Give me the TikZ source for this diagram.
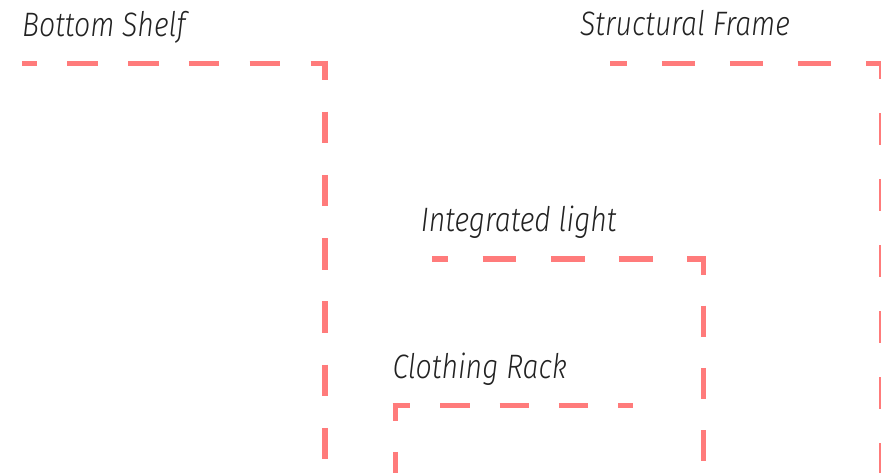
\documentclass[tikz,border=0pt]{standalone}
\usepackage{fontspec}
\newfontfamily\labelfont{Fira Sans}[UprightFont={* Light Italic}, FakeStretch=0.84]
\definecolor{framepink}{HTML}{FF7B7B}
\definecolor{labelink}{HTML}{222222}
\tikzset{
  caption/.style={anchor=base west, inner sep=0pt, text=labelink,
    font=\labelfont\fontsize{34}{40}\selectfont},
  outline/.style={draw=framepink, line width=5.5bp},
}
\begin{document}
\begin{tikzpicture}[x=1bp,y=-1bp]
\useasboundingbox (0,0) rectangle (881,473);
\clip (0,0) rectangle (881,473);

% corner points of the four dashed frames
\coordinate (shelfL) at (22,63.5);
\coordinate (shelfC) at (325,63.5);
\coordinate (frameL) at (610,63.5);
\coordinate (frameC) at (882,63.5);
\coordinate (lightL) at (432,258.8);
\coordinate (lightC) at (703.3,258.8);
\coordinate (rackC) at (395.3,405.5);
\coordinate (rackR) at (633.3,405.5);

% Bottom Shelf
\draw[outline, dash pattern=on 30.5bp off 30.3bp, dash phase=15.5bp]
  (shelfL) -- ([xshift=2.75bp]shelfC);
\draw[outline, dash pattern=on 31.5bp off 31.7bp, dash phase=12.2bp]
  ([yshift=2.75bp]shelfC) -- ([yshift=-420bp]shelfC);

% Structural Frame
\draw[outline, dash pattern=on 33.3bp off 34.8bp, dash phase=16.3bp]
  (frameL) -- ([xshift=2.75bp]frameC);
\draw[outline, dash pattern=on 32.5bp off 33.5bp, dash phase=14bp]
  ([yshift=2.75bp]frameC) -- ([yshift=-420bp]frameC);

% Integrated light
\draw[outline, dash pattern=on 33.7bp off 34.4bp, dash phase=17.4bp]
  (lightL) -- ([xshift=2.75bp]lightC);
\draw[outline, dash pattern=on 31bp off 31.2bp, dash phase=12.5bp]
  ([yshift=2.75bp]lightC) -- ([yshift=-230bp]lightC);

% Clothing Rack
\draw[outline, dash pattern=on 29.5bp off 29.9bp, dash phase=11.8bp]
  ([xshift=-2.75bp]rackC) -- (rackR);
\draw[outline, dash pattern=on 30bp off 31bp, dash phase=12bp]
  ([yshift=2.75bp]rackC) -- ([yshift=-80bp]rackC);

% labels
\node[caption] (shelf) at (22,37) {Bottom Shelf};
\node[caption] (frame) at (580,36) {Structural Frame};
\node[caption] (light) at (420.7,231.7) {Integrated light};
\node[caption] (rack)  at (392.3,378.3) {Clothing Rack};
\end{tikzpicture}
\end{document}
